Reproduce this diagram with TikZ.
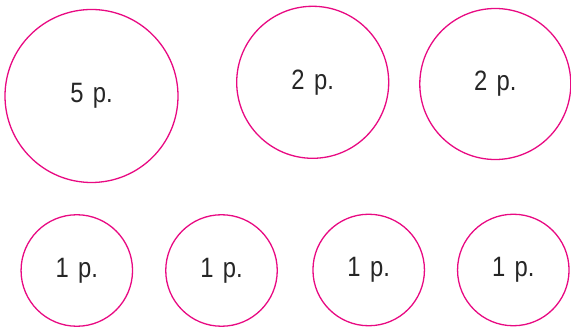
\documentclass[tikz,border=0pt]{standalone}
\usepackage{fontspec}
\setmainfont{Liberation Sans}[FakeStretch=0.85]
\definecolor{coinpink}{RGB}{232,10,130}
\begin{document}
\begin{tikzpicture}[x=1pt,y=-1pt,
  coin/.style={circle,draw=coinpink,line width=1.3pt,inner sep=0pt,font=\fontsize{28}{30}\selectfont,text=black!85}]
\useasboundingbox (0,0) rectangle (571,331);
\node[coin,minimum size=173pt] (c5) at (91.5,96) {5\,\,p.};
\node[coin,minimum size=152pt] (c2a) at (312.7,82.3) {2\,\,p.};
\node[coin,minimum size=151pt] (c2b) at (495.3,84) {2\,\,p.};
\node[coin,minimum size=111.5pt] (c1a) at (76.8,270.5) {1\,\,p.};
\node[coin,minimum size=111.5pt] (c1b) at (221.5,270.5) {1\,\,p.};
\node[coin,minimum size=111.5pt] (c1c) at (368.7,270) {1\,\,p.};
\node[coin,minimum size=111.5pt] (c1d) at (513.3,270) {1\,\,p.};
\end{tikzpicture}
\end{document}
